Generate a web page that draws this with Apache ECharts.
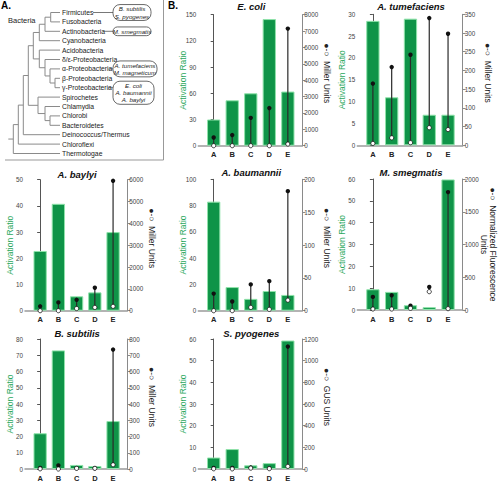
<!DOCTYPE html>
<html><head><meta charset="utf-8">
<script src="https://cdn.jsdelivr.net/npm/echarts@6/dist/echarts.min.js"></script>
<style>html,body{margin:0;padding:0;background:#fff}#c{width:499px;height:482px}</style>
</head><body><div id="c"></div>
<script>
// ---------- DATA ----------
const categories = ['A', 'B', 'C', 'D', 'E'];

const ecoliRatio = [30, 52, 60, 145, 62];
const ecoliUninduced = [0, 0, 0, 0, 100];
const ecoliInduced = [500, 650, 1700, 2300, 7150];

const tumefaciensRatio = [28.5, 11, 29, 7, 7];
const tumefaciensUninduced = [5, 20, 7, 47, 42];
const tumefaciensInduced = [165, 209, 242, 340, 298];

const baylyiRatio = [22.8, 40.8, 5.5, 7, 30];
const baylyiUninduced = [0, 0, 100, 150, 200];
const baylyiInduced = [200, 380, 500, 1050, 5950];

const baumanniiRatio = [83, 18, 9, 15, 12];
const baumanniiUninduced = [0, 0, 5, 2, 16];
const baumanniiInduced = [26, 14, 40, 45, 182];

const smegmatisRatio = [9.5, 8.3, 2.2, 1.3, 59.8];
const smegmatisUninduced = [15, 15, 25, 280, 20];
const smegmatisInduced = [200, 224, 66, 351, 1800];

const subtilisRatio = [22, 73, 2.5, 1.8, 29.5];
const subtilisUninduced = [1, 0, 4, 4, 26];
const subtilisInduced = [6, 22, 5, 5, 735];

const pyogenesRatio = [5.3, 9.2, 1.7, 2.7, 59.3];
const pyogenesUninduced = [2, 1, 8, 3, 24];
const pyogenesInduced = [10, 9, 13, 8, 1130];

// phylogenetic tree leaves
const treeLeaves = ['Firmicutes', 'Fusobacteria', 'Actinobacteria', 'Cyanobacteria', 'Acidobacteria',
  'δ/ε-Proteobacteria', 'α-Proteobacteria', 'β-Proteobacteria', 'γ-Proteobacteria', 'Spirochetes',
  'Chlamydia', 'Chlorobi', 'Bacteroidetes', 'Deinococcus/Thermus', 'Chloroflexi', 'Thermotogae'];
const callouts = [
  { leaf: 0, lines: ['B. subtilis', 'S. pyogenes'] },
  { leaf: 2, lines: ['M. smegmatis'] },
  { leaf: 6, lines: ['A. tumefaciens', 'M. magneticum'] },
  { leaf: 8, lines: ['E. coli', 'A. baumannii', 'A. baylyi'] }
];

// ---------- LAYOUT ----------
const FONT = '"Liberation Sans", Arial, Helvetica, sans-serif';
const charts = [
  { title: 'E. coli', ratio: ecoliRatio, un: ecoliUninduced, ind: ecoliInduced, L: 198.3, R: 302.3, T: 14.7, B: 145.7, lmax: 150, lint: 30, rmax: 8000, rint: 1000, rname: 'Miller Units', ty: 6.5 },
  { title: 'A. tumefaciens', ratio: tumefaciensRatio, un: tumefaciensUninduced, ind: tumefaciensInduced, L: 357.3, R: 462.7, T: 14.3, B: 145.3, lmax: 30, lint: 5, rmax: 350, rint: 50, rname: 'Miller Units', ty: 6.5 },
  { title: 'A. baylyi', ratio: baylyiRatio, un: baylyiUninduced, ind: baylyiInduced, L: 25, R: 127.3, T: 179.7, B: 310.7, lmax: 50, lint: 10, rmax: 6000, rint: 1000, rname: 'Miller Units', ty: 174.5 },
  { title: 'A. baumannii', ratio: baumanniiRatio, un: baumanniiUninduced, ind: baumanniiInduced, L: 198.3, R: 302.3, T: 179.3, B: 310.7, lmax: 100, lint: 20, rmax: 200, rint: 50, rname: 'Miller Units', ty: 172.8 },
  { title: 'M. smegmatis', ratio: smegmatisRatio, un: smegmatisUninduced, ind: smegmatisInduced, L: 357.3, R: 462.7, T: 179, B: 310, lmax: 60, lint: 10, rmax: 2000, rint: 500, rname: 'Normalized Fluorescence\nUnits', ty: 172.8 },
  { title: 'B. subtilis', ratio: subtilisRatio, un: subtilisUninduced, ind: subtilisInduced, L: 25, R: 127.3, T: 339, B: 470, lmax: 80, lint: 10, rmax: 800, rint: 100, rname: 'Miller Units', ty: 333 },
  { title: 'S. pyogenes', ratio: pyogenesRatio, un: pyogenesUninduced, ind: pyogenesInduced, L: 198.3, R: 302.3, T: 339, B: 470, lmax: 60, lint: 10, rmax: 1200, rint: 200, rname: 'GUS Units', ty: 333 }
];

const W = 499, H = 482;
const grids = [], xAxes = [], yAxes = [], series = [], graphics = [];
const plain = v => String(v);

charts.forEach((c, i) => {
  grids.push({ left: c.L, width: c.R - c.L, top: c.T, height: c.B - c.T, containLabel: false });
  xAxes.push({
    type: 'value', gridIndex: i, min: -0.83, max: 4.78,
    axisLine: { show: true, onZero: false, lineStyle: { color: '#9a9a9a', width: 1.5 } },
    axisTick: { show: false }, splitLine: { show: false },
    axisLabel: {
      customValues: [0, 1, 2, 3, 4], formatter: v => categories[Math.round(v)] || '',
      fontFamily: FONT, fontSize: 7.5, fontWeight: 'bold', color: '#222', margin: 5
    }
  });
  const multi = c.rname.indexOf('\n') >= 0;
  yAxes.push({
    type: 'value', gridIndex: i, position: 'left', min: 0, max: c.lmax, interval: c.lint,
    axisLine: { show: true, lineStyle: { color: '#555', width: 1 } },
    axisTick: { show: true, length: 3, lineStyle: { color: '#555' } },
    splitLine: { show: false },
    axisLabel: { fontFamily: FONT, fontSize: 6.3, color: '#444', margin: 2, formatter: plain },
    name: 'Activation Ratio', nameLocation: 'middle', nameRotate: 90, nameGap: 11, nameMoveOverlap: false,
    nameTextStyle: { fontFamily: FONT, fontSize: 8.5, color: '#2aa85c' }
  });
  yAxes.push({
    type: 'value', gridIndex: i, position: 'right', min: 0, max: c.rmax, interval: c.rint,
    axisLine: { show: true, lineStyle: { color: '#8a8a8a', width: 1 } },
    axisTick: { show: true, length: 3, lineStyle: { color: '#8a8a8a' } },
    splitLine: { show: false },
    axisLabel: { fontFamily: FONT, fontSize: 6.3, color: '#444', margin: 2, formatter: plain },
    name: '●-○  ' + c.rname, nameLocation: 'middle', nameRotate: -90, nameGap: multi ? 17 : 20.5, nameMoveOverlap: false,
    nameTextStyle: { fontFamily: FONT, fontSize: 8.5, color: '#222', lineHeight: 9, padding: multi ? [0, 0, 0, 0] : [0, 14, 0, 0] }
  });
  series.push({
    type: 'bar', xAxisIndex: i, yAxisIndex: 2 * i, barWidth: 13.3,
    itemStyle: { color: '#0f9448', borderColor: '#8fe3aa', borderWidth: 1 },
    data: c.ratio.map((v, k) => [k, v]), z: 2
  });
  series.push({
    type: 'custom', xAxisIndex: i, yAxisIndex: 2 * i + 1, clip: false, z: 4,
    encode: { x: 0, y: [1, 2] },
    data: categories.map((cat, k) => [k, c.un[k], c.ind[k]]),
    renderItem: (params, api) => {
      const x = api.value(0);
      const p0 = api.coord([x, api.value(1)]);
      const p1 = api.coord([x, api.value(2)]);
      return {
        type: 'group', children: [
          { type: 'line', shape: { x1: p0[0], y1: p0[1], x2: p1[0], y2: p1[1] }, style: { stroke: '#2a2a2a', lineWidth: 1.2 } },
          { type: 'circle', shape: { cx: p1[0], cy: p1[1], r: 2.2 }, style: { fill: '#111' } },
          { type: 'circle', shape: { cx: p0[0], cy: p0[1], r: 2.1 }, style: { fill: '#fff', stroke: '#111', lineWidth: 0.8 } }
        ]
      };
    }
  });
  graphics.push({
    type: 'text', x: (c.L + c.R) / 2 + 1, y: c.ty,
    style: { text: c.title, fontFamily: FONT, fontSize: 9.5, fontWeight: 'bold', fontStyle: 'italic', fill: '#111',
      align: 'center', verticalAlign: 'middle', textAlign: 'center', textVerticalAlign: 'middle' }
  });
});

// panel labels
function txt(x, y, s, opt) {
  graphics.push({ type: 'text', x: x, y: y, style: Object.assign({ text: s, fontFamily: FONT, fontSize: 7, fill: '#222',
    align: 'left', verticalAlign: 'middle', textAlign: 'left', textVerticalAlign: 'middle' }, opt || {}) });
}
txt(1, 5, 'A.', { fontSize: 10, fontWeight: 'bold', fill: '#000' });
txt(168, 5, 'B.', { fontSize: 10, fontWeight: 'bold', fill: '#000' });
txt(8, 20, 'Bacteria', { fontSize: 7.5 });

// ---------- TREE (panel A) ----------
const leafY = k => 12.5 + k * 9.4;
const LEAF_END = 60;
const tree = { x: 13.3, c: [
  { x: 18.3, c: [
    { x: 23.3, c: [
      { x: 28.3, c: [
        { x: 33.3, c: [
          { x: 39.3, c: [ { x: 45, c: [ { x: 50.7, c: [0, 1] }, 2 ] }, 3 ] },
          { x: 39.3, c: [ 4, { x: 45, c: [ 5, { x: 50, c: [ 6, { x: 55, c: [7, 8] } ] } ] } ] }
        ] },
        { x: 38, c: [ 9, { x: 45, c: [ 10, { x: 50, c: [11, 12] } ] } ] }
      ] },
      13 ] },
    14 ] },
  15 ] };
function nodeY(n) {
  if (typeof n === 'number') return leafY(n);
  n.ys = n.c.map(nodeY);
  n.y = (n.ys[0] + n.ys[n.ys.length - 1]) / 2;
  return n.y;
}
nodeY(tree);
const TREE_STROKE = { stroke: '#8a8a8a', lineWidth: 1 };
function seg(x1, y1, x2, y2, st) {
  graphics.push({ type: 'line', shape: { x1, y1, x2, y2 }, style: st || TREE_STROKE });
}
function drawNode(n) {
  seg(n.x, n.ys[0], n.x, n.ys[n.ys.length - 1]);
  n.c.forEach((ch, k) => {
    const cx = typeof ch === 'number' ? LEAF_END : ch.x;
    seg(n.x, n.ys[k], cx, n.ys[k]);
    if (typeof ch !== 'number') drawNode(ch);
  });
}
seg(8.3, tree.y, tree.x, tree.y);
drawNode(tree);
treeLeaves.forEach((name, k) => txt(62, leafY(k), name, { fontSize: 6.8 }));

// callouts
const textEnd = [92, 0, 102, 0, 0, 0, 107.5, 0, 107];
callouts.forEach(co => {
  const y = leafY(co.leaf);
  const h = co.lines.length * 7.2 + 1.5;
  const bx = 113, bw = co.lines.length === 3 ? 41 : (co.lines[0].length > 12 ? 44 : 38);
  const top = co.lines.length === 3 ? y - 6.5 : y - h / 2;
  seg(textEnd[co.leaf] + 1, y, bx, y, { stroke: '#555', lineWidth: 0.8 });
  graphics.push({ type: 'rect', shape: { x: bx, y: top, width: bw, height: h, r: Math.min(7, h / 2) },
    style: { fill: '#fff', stroke: '#444', lineWidth: 0.8 } });
  co.lines.forEach((l, j) => {
    graphics.push({ type: 'text', x: bx + bw / 2, y: top + 0.75 + 3.6 + j * 7.2,
      style: { text: l, fontFamily: FONT, fontSize: 6.2, fontStyle: 'italic', fill: '#222',
        align: 'center', verticalAlign: 'middle', textAlign: 'center', textVerticalAlign: 'middle' } });
  });
});
// panel A frame (right and bottom)
seg(163.5, 0, 163.5, 160, { stroke: '#999', lineWidth: 1 });
seg(5, 160, 163.5, 160, { stroke: '#999', lineWidth: 1 });

const chart = echarts.init(document.getElementById('c'), null, { renderer: 'svg', width: W, height: H });
chart.setOption({
  animation: false,
  backgroundColor: '#fff',
  grid: grids, xAxis: xAxes, yAxis: yAxes, series: series,
  graphic: { elements: graphics }
});
</script></body></html>
